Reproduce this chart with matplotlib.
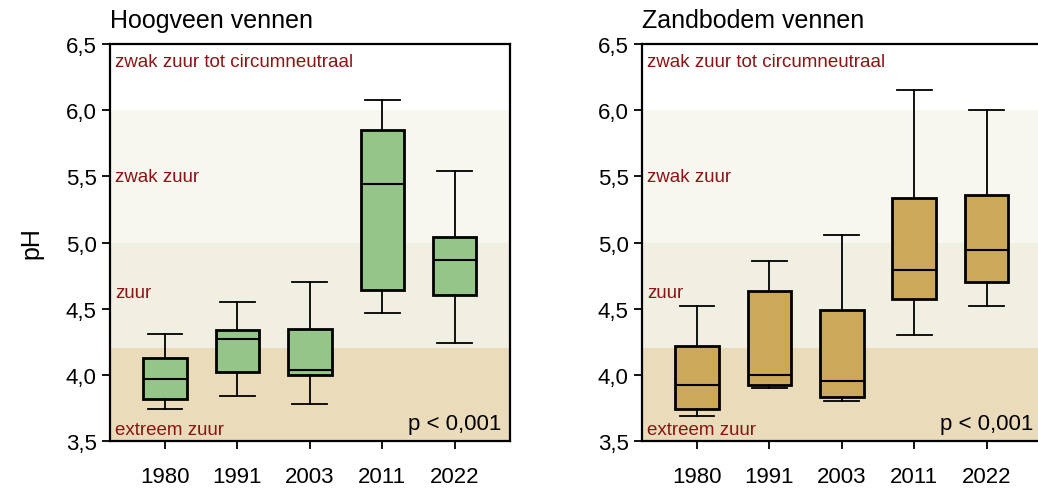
import matplotlib
matplotlib.use("Agg")
import matplotlib.pyplot as plt
import numpy as np

plt.rcParams['font.family'] = ['Liberation Sans', 'DejaVu Sans']

years = ["1980", "1991", "2003", "2011", "2022"]

# whisker low, Q1, median, Q3, whisker high
hoogveen_low = [3.74, 3.84, 3.78, 4.47, 4.24]
hoogveen_q1 = [3.82, 4.02, 4.00, 4.64, 4.60]
hoogveen_med = [3.97, 4.27, 4.04, 5.44, 4.87]
hoogveen_q3 = [4.13, 4.34, 4.35, 5.85, 5.04]
hoogveen_high = [4.31, 4.55, 4.70, 6.08, 5.54]

zand_low = [3.69, 3.90, 3.80, 4.30, 4.52]
zand_q1 = [3.74, 3.92, 3.83, 4.57, 4.70]
zand_med = [3.92, 4.00, 3.95, 4.79, 4.94]
zand_q3 = [4.22, 4.63, 4.49, 5.34, 5.36]
zand_high = [4.52, 4.86, 5.06, 6.15, 6.00]

band_edges = [3.5, 4.2, 5.0, 6.0, 6.5]
band_colors = ["#EADBBA", "#F0EFE1", "#F7F6EF", "#FFFFFF"]
band_labels = ["extreem zuur", "zuur", "zwak zuur", "zwak zuur tot circumneutraal"]
label_y = [3.59, 4.62, 5.50, 6.37]

yticks = [3.5, 4.0, 4.5, 5.0, 5.5, 6.0, 6.5]


def draw_panel(ax, title, low, q1, med, q3, high, fill):
    for i in range(len(band_colors)):
        ax.axhspan(band_edges[i], band_edges[i + 1], color=band_colors[i], lw=0, zorder=0)
        ax.text(0.012, label_y[i], band_labels[i], transform=ax.get_yaxis_transform(),
                color="#8B1414", fontsize=13.5, va="center", ha="left", zorder=1)
    stats = []
    for i in range(len(years)):
        stats.append({"whislo": low[i], "q1": q1[i], "med": med[i], "q3": q3[i],
                      "whishi": high[i], "label": years[i], "fliers": []})
    ax.bxp(stats, positions=np.arange(1, len(years) + 1), widths=0.6, patch_artist=True,
           showfliers=False,
           boxprops=dict(facecolor=fill, edgecolor="black", linewidth=2),
           medianprops=dict(color="black", linewidth=1.5),
           whiskerprops=dict(color="black", linewidth=1.3),
           capprops=dict(color="black", linewidth=1.3), capwidths=0.48)
    ax.set_xlim(0.24, 5.76)
    ax.set_ylim(3.5, 6.5)
    ax.set_yticks(yticks)
    ax.set_yticklabels([("%.1f" % v).replace(".", ",") for v in yticks])
    ax.tick_params(axis="both", labelsize=16, width=1.3, length=6)
    ax.tick_params(axis="x", pad=12)
    for s in ax.spines.values():
        s.set_linewidth(1.6)
    ax.text(0.98, 3.63, "p < 0,001", transform=ax.get_yaxis_transform(),
            fontsize=16, ha="right", va="center", zorder=3)
    ax.set_title(title, loc="left", fontsize=18, pad=12)


fig = plt.figure(figsize=(10.38, 4.89), dpi=100)
ax1 = fig.add_axes([0.106, 0.096, 0.385, 0.812])
ax2 = fig.add_axes([0.6185, 0.096, 0.385, 0.812])

draw_panel(ax1, "Hoogveen vennen", hoogveen_low, hoogveen_q1, hoogveen_med,
           hoogveen_q3, hoogveen_high, "#96C589")
draw_panel(ax2, "Zandbodem vennen", zand_low, zand_q1, zand_med,
           zand_q3, zand_high, "#CCA85B")
ax1.set_ylabel("pH", fontsize=18, labelpad=16)

fig.savefig("out.png", dpi=100)
